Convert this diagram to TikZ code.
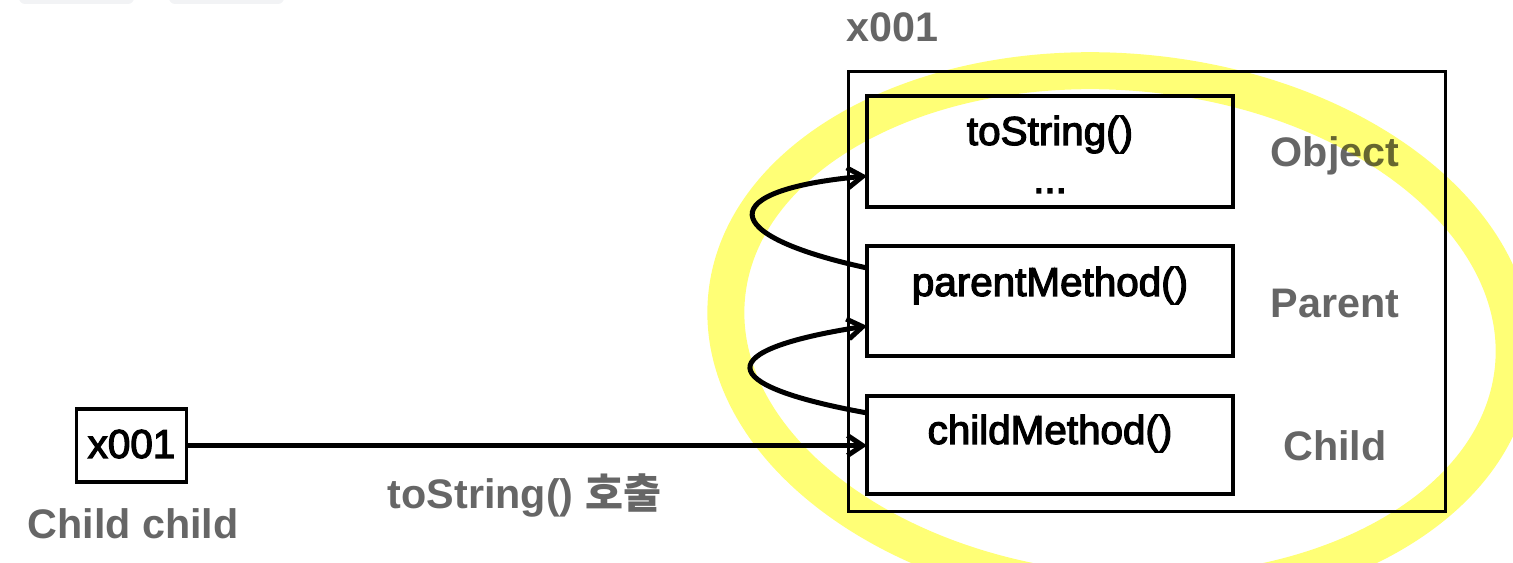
\documentclass[tikz,border=0pt]{standalone}
\usepackage{fontspec}
\setmainfont{Liberation Sans}
\newfontfamily\boxfont[FakeBold=3]{Liberation Sans}
\newfontfamily\krfont{Noto Sans CJK KR}
\usetikzlibrary{positioning, arrows.meta}
\definecolor{labelgray}{RGB}{102,102,102}
\definecolor{ringyellow}{RGB}{255,255,118}
\definecolor{tabgray}{RGB}{242,243,245}

\begin{document}
\begin{tikzpicture}[
		x=0.02cm, y=-0.02cm, % one unit is one pixel of the sketch, y runs down
		>={Straight Barb[length=0.3cm, width=0.4cm]},
		font=\fontsize{23}{27}\boxfont,
		method/.style={
				draw,
				rectangle,
				line width=0.065cm,
				minimum width=7.32cm, % same width for all three parts
				inner sep=0pt,
				outer sep=0pt
			},
		ref/.style={
				draw,
				rectangle,
				line width=0.065cm,
				minimum width=2.2cm,
				inner sep=0pt,
				outer sep=0pt,
				text height=0.98cm,
				text depth=0.48cm
			},
		heap/.style={
				draw,
				rectangle,
				line width=0.06cm,
				minimum width=11.96cm,
				minimum height=8.82cm
			},
		tag/.style={
				text=labelgray,
				font=\fontsize{23.5}{27}\selectfont\bfseries,
				inner sep=0pt,
				anchor=base
			},
		call/.style={
				->,
				line width=0.1cm
			}
	]
	\useasboundingbox (0,0) rectangle (1513,563);

	% Tabs cut off at the top edge
	\fill[tabgray, rounded corners=0.12cm] (19,-20) rectangle (134,4);
	\fill[tabgray, rounded corners=0.12cm] (169,-20) rectangle (284,4);

	% Nodes
	\node[heap] (heap) at (1147,291.5) {};
	\node[tag] (addr) at (892.5,42) {x001};
	\node[method, text height=0.98cm, text depth=1.24cm] (tostr) at (1050,151.5) {toString()};
	\node[anchor=base, inner sep=0pt] (dots) at ([yshift=-0.96cm]tostr.base) {...};
	\node[method, below=0.78cm of tostr, text height=1cm, text depth=1.2cm] (parent) {parentMethod()};
	\node[method, below=0.8cm of parent, text height=0.96cm, text depth=1cm] (child) {childMethod()};

	\node[tag] (objtag) at (1335,167) {Object};
	\node[tag] (partag) at (1335,318) {Parent};
	\node[tag] (chitag) at (1335,460) {Child};

	\node[ref] (var) at (131.5,445.5) {x001};
	\node[tag] (varname) at (133,538) {Child child};
	\node[tag] (calltag) at (524.5,508) {toString() {\krfont 호출}};

	% Paths
	\draw[call] (var.east) -- (var.east -| child.west);
	\draw[call] ([yshift=0.66cm]parent.west) .. controls +(-152,-33) and +(-152,14) .. ([yshift=-0.49cm]tostr.west);
	\draw[call] ([yshift=0.64cm]child.west) .. controls +(-155,-28) and +(-155,24) .. ([yshift=-0.5cm]parent.west);

	% Highlight ring
	\begin{scope}[blend mode=multiply]
		\draw[ringyellow, line width=0.74cm, rotate around={-5:(1120,332)}] (1120,332) ellipse [x radius=395, y radius=260];
	\end{scope}
\end{tikzpicture}
\end{document}
